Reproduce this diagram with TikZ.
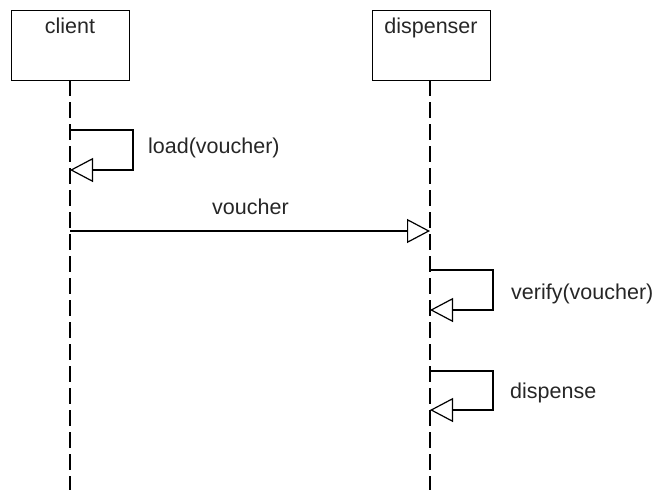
\documentclass[tikz,border=0pt]{standalone}
\usepackage{fontspec}
\setmainfont{Liberation Sans}
\usetikzlibrary{arrows.meta}

\tikzset{
  actor/.style={draw, thick, minimum width=118pt, minimum height=70pt, inner sep=0pt},
  lifeline/.style={line width=1.3pt, dash pattern=on 16pt off 6pt},
  msg/.style={line width=1.2pt, -{Triangle[open, length=23pt, width=24pt, line width=1.2pt]}},
  msgtxt/.style={right, inner sep=0pt, text=black!85}
}

\begin{document}
\begin{tikzpicture}[x=1pt, y=-1pt, font=\fontsize{21.5}{25}\selectfont]
      \useasboundingbox (0,0) rectangle (659,490);

      \node[actor, label={[anchor=north, yshift=-8pt, inner sep=0pt, text=black!85]north:client}] (client) at (70,45) {};
      \node[actor, label={[anchor=north, yshift=-8pt, inner sep=0pt, text=black!85]north:dispenser}] (dispenser) at (431,45) {};

      \coordinate (clientend) at (70,490);
      \coordinate (dispend)   at (430,490);
      \draw[lifeline] (client.south) -- (clientend);
      \draw[lifeline] (dispenser.south -| dispend) -- (dispend);

      % message points on the lifelines
      \coordinate (c1) at ( 70,130);
      \coordinate (c2) at ( 70,170);
      \coordinate (c3) at ( 70,231);
      \coordinate (d1) at (430,231);
      \coordinate (d2) at (430,270);
      \coordinate (d3) at (430,310);
      \coordinate (d4) at (430,371);
      \coordinate (d5) at (430,410);

      \draw[msg] (c1) -- ++(63,0) |- (c2);
      \node[msgtxt] (loadtxt) at (148,148) {load(voucher)};

      \draw[msg] (c3) -- (d1);
      \node[msgtxt] (vouchertxt) at (212,207) {voucher};

      \draw[msg] (d2) -- ++(63,0) |- (d3);
      \node[msgtxt] (verifytxt) at (511,294) {verify(voucher)};

      \draw[msg] (d4) -- ++(63,0) |- (d5);
      \node[msgtxt] (dispensetxt) at (510,393) {dispense};
    \end{tikzpicture}
\end{document}
